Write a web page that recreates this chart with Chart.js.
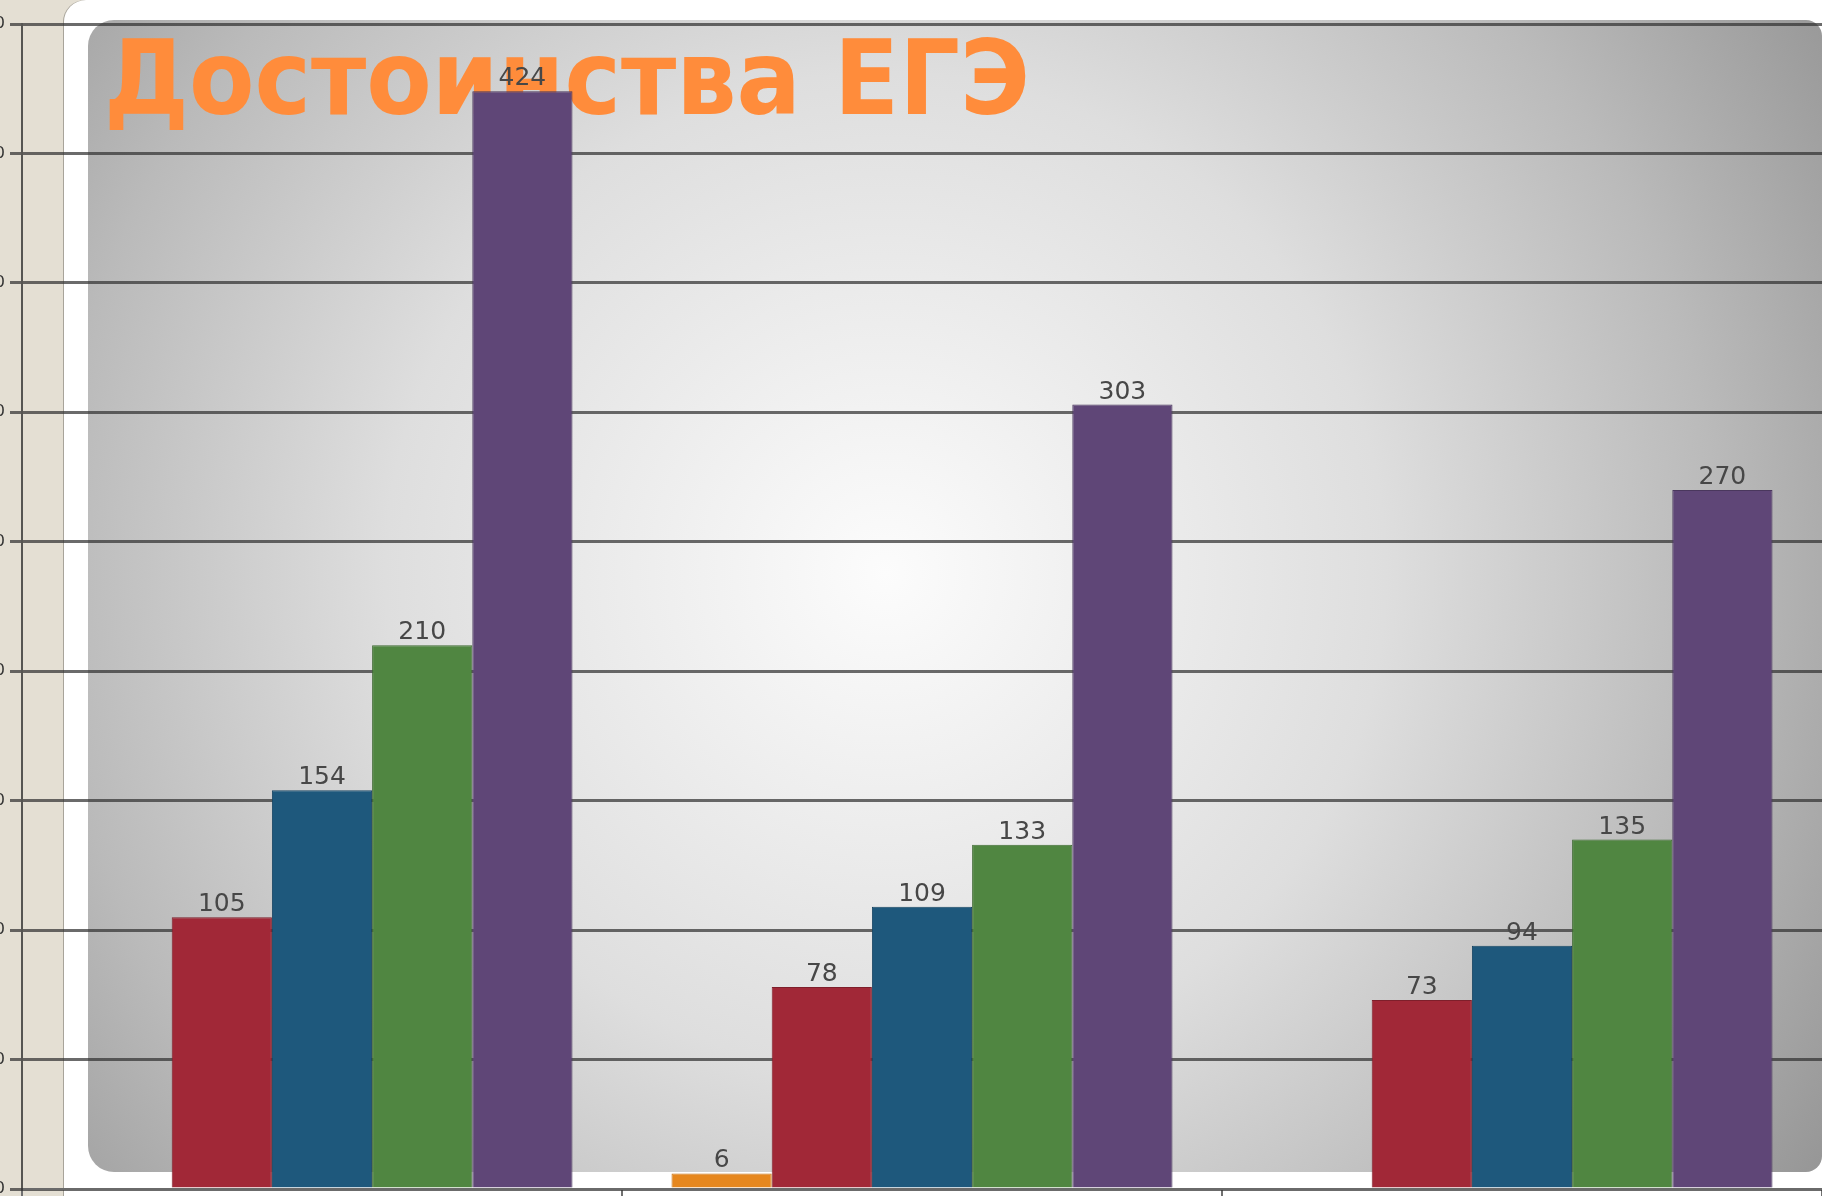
<!DOCTYPE html>
<html>
<head>
<meta charset="utf-8">
<script src="https://cdn.jsdelivr.net/npm/chart.js@4.4.0/dist/chart.umd.min.js"></script>
<style>
  html, body { margin: 0; padding: 0; width: 1824px; height: 1196px; overflow: hidden; background: #e4dfd3; }
  #sheet {
    position: absolute; left: 64px; top: 0; width: 1800px; height: 1260px;
    background: #fff; border-radius: 22px 0 0 0; box-shadow: -1px 0 0 #a8a49a;
  }
  #panel {
    position: absolute; left: 88px; top: 20px; width: 1734px; height: 1152px;
    border-radius: 26px 16px 16px 26px;
    background: radial-gradient(circle farthest-corner at 46% 48%, #fcfcfc 0%, #dedede 45%, #bababa 75%, #969696 100%);
  }
  #title {
    position: absolute; left: 104px; top: 27px; margin: 0;
    font: bold 103px/1 "DejaVu Sans", sans-serif; color: #ff8c3b;
    white-space: nowrap; transform-origin: 0 0;
  }
  #chart { position: absolute; left: -58px; top: 0; }
</style>
</head>
<body>
<div id="sheet"></div>
<div id="panel"></div>
<h1 id="title">Достоинства ЕГЭ</h1>
<canvas id="chart" width="1880" height="1209"></canvas>
<script>
// значения по группам
const categories = ['I', 'II', 'III'];
const orangeVals = [null, 6, null];
const redVals    = [105, 78, 73];
const blueVals   = [154, 109, 94];
const greenVals  = [210, 133, 135];
const purpleVals = [424, 303, 270];
const yMax = 450;
const yStep = 50;

// заголовок поджимаем по ширине
const title = document.getElementById('title');
const w = title.getBoundingClientRect().width;
title.style.transform = `scaleX(${926 / w})`;

// подписи значений над столбиками
const barValueLabels = {
  id: 'barValueLabels',
  afterDatasetsDraw(chart) {
    const ctx = chart.ctx;
    ctx.save();
    ctx.font = '25px "DejaVu Sans", sans-serif';
    ctx.fillStyle = '#474747';
    ctx.textAlign = 'center';
    chart.data.datasets.forEach((ds, di) => {
      chart.getDatasetMeta(di).data.forEach((bar, i) => {
        const v = ds.data[i];
        if (v == null) return;
        ctx.fillText(String(v), bar.x, bar.y - 6);
      });
    });
    ctx.restore();
  }
};

const mk = (data, color, edge) => ({ data, backgroundColor: color, borderColor: edge, borderWidth: 1 });

new Chart(document.getElementById('chart'), {
  type: 'bar',
  data: {
    labels: categories,
    datasets: [
      mk(orangeVals, '#e6871e', '#c56f12'),
      mk(redVals,    '#a12837', '#7e1f2b'),
      mk(blueVals,   '#1e587c', '#174563'),
      mk(greenVals,  '#508641', '#3f6a33'),
      mk(purpleVals, '#5f4677', '#4a375d')
    ]
  },
  options: {
    responsive: false,
    animation: false,
    layout: { padding: { top: 24, right: 0, bottom: 0, left: 0 } },
    datasets: { bar: { barPercentage: 1, categoryPercentage: 0.835 } },
    plugins: { legend: { display: false }, tooltip: { enabled: false } },
    scales: {
      x: {
        grid: { drawOnChartArea: false, offset: true, tickLength: 8, color: '#707070', lineWidth: 2 },
        border: { color: '#6a6a6a', width: 2 },
        ticks: { display: false },
        afterFit(s) { s.height = 20; }
      },
      y: {
        min: 0, max: yMax,
        ticks: { stepSize: yStep, padding: 5, color: '#333', font: { size: 16, family: 'DejaVu Sans' } },
        grid: { color: 'rgba(50,50,50,0.72)', lineWidth: 3, tickLength: 12 },
        border: { color: 'rgba(50,50,50,0.8)', width: 2 },
        afterFit(s) { s.width = 80; }
      }
    }
  },
  plugins: [barValueLabels]
});
</script>
</body>
</html>
